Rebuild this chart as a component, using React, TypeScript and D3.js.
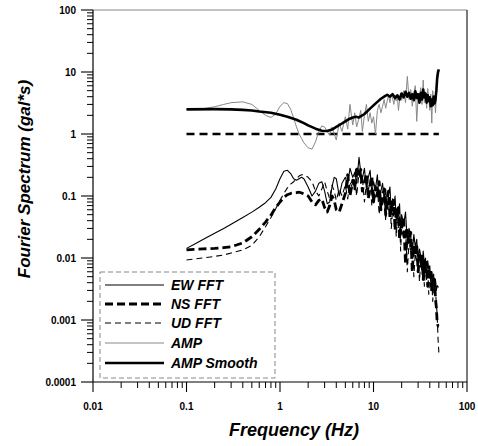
import React from "react";
import * as d3 from "d3";

// ---------- DATA ----------
const FREQ: number[] = [
  0.1, 0.12, 0.15, 0.2, 0.25, 0.3, 0.4, 0.5, 0.6, 0.7, 0.8, 0.9, 1.0, 1.1, 1.2, 1.3, 1.4, 1.5, 1.6, 1.7, 1.8,
  2.0, 2.2, 2.4, 2.6, 2.8, 3.0, 3.2, 3.4, 3.6, 3.8, 4.0, 4.3, 4.6, 5.0,
  5.3, 5.6, 6.0, 6.3, 6.6, 7.0, 7.3, 7.6, 8.0, 8.4, 8.8, 9.2, 9.6, 10,
  10.5, 11, 11.5, 12, 12.5, 13, 13.5, 14, 14.5, 15, 15.5, 16, 16.5, 17, 17.5, 18, 18.5, 19, 19.5, 20,
  21, 22, 23, 24, 25, 26, 27, 28, 29, 30, 31, 32, 33, 34, 35, 36, 37, 38, 39, 40,
  41, 42, 43, 44, 45, 46, 47, 48, 49, 50,
];

const EW_FFT: number[] = [
  0.0143, 0.0165, 0.0198, 0.025, 0.03, 0.035, 0.045, 0.055, 0.066, 0.078, 0.095, 0.13, 0.19, 0.25, 0.26, 0.23, 0.19, 0.18, 0.19, 0.2, 0.19,
  0.14, 0.1, 0.12, 0.16, 0.17, 0.12, 0.075, 0.08, 0.14, 0.2, 0.19, 0.1, 0.16, 0.2,
  0.15, 0.28, 0.2, 0.24, 0.16, 0.42, 0.24, 0.19, 0.28, 0.13, 0.2, 0.26, 0.11, 0.17,
  0.13, 0.22, 0.08, 0.12, 0.16, 0.09, 0.13, 0.06, 0.11, 0.14, 0.05, 0.09, 0.07, 0.1, 0.04, 0.065, 0.055, 0.075, 0.028, 0.05,
  0.035, 0.055, 0.018, 0.03, 0.022, 0.012, 0.024, 0.015, 0.02, 0.009, 0.014, 0.011, 0.0065, 0.013, 0.008, 0.01, 0.0045, 0.009, 0.0065, 0.0075,
  0.0038, 0.006, 0.0048, 0.0055, 0.0028, 0.0045, 0.003, 0.0036, 0.0034, 0.0034,
];

const NS_FFT: number[] = [
  0.0135, 0.0138, 0.014, 0.0143, 0.0147, 0.0152, 0.0175, 0.022, 0.029, 0.038, 0.049, 0.065, 0.08, 0.095, 0.105, 0.11, 0.112, 0.113, 0.115, 0.112, 0.108,
  0.1, 0.08, 0.072, 0.085, 0.09, 0.065, 0.055, 0.07, 0.1, 0.085, 0.06, 0.055, 0.075, 0.11,
  0.22, 0.1, 0.18, 0.13, 0.3, 0.2, 0.27, 0.12, 0.17, 0.23, 0.09, 0.15, 0.21, 0.08,
  0.14, 0.1, 0.17, 0.06, 0.1, 0.13, 0.05, 0.09, 0.12, 0.045, 0.08, 0.06, 0.085, 0.028, 0.06, 0.045, 0.065, 0.02, 0.04, 0.03,
  0.045, 0.008, 0.028, 0.018, 0.026, 0.006, 0.016, 0.011, 0.017, 0.006, 0.011, 0.0085, 0.012, 0.0045, 0.009, 0.006, 0.0085, 0.0035, 0.0068, 0.005,
  0.0062, 0.0028, 0.0048, 0.0035, 0.0045, 0.0022, 0.0016, 0.0009, 0.0008, 0.0008,
];

const UD_FFT: number[] = [
  0.0093, 0.0096, 0.01, 0.0106, 0.0112, 0.012, 0.0135, 0.016, 0.022, 0.032, 0.045, 0.062, 0.085, 0.11, 0.135, 0.155, 0.17, 0.19, 0.21, 0.22, 0.22,
  0.2, 0.17, 0.12, 0.1, 0.13, 0.17, 0.12, 0.09, 0.15, 0.12, 0.085, 0.13, 0.1, 0.15,
  0.09, 0.17, 0.13, 0.2, 0.1, 0.24, 0.16, 0.2, 0.08, 0.16, 0.12, 0.18, 0.07, 0.12,
  0.09, 0.14, 0.05, 0.1, 0.07, 0.11, 0.04, 0.075, 0.06, 0.09, 0.03, 0.06, 0.045, 0.065, 0.022, 0.045, 0.03, 0.048, 0.013, 0.03,
  0.02, 0.03, 0.006, 0.02, 0.012, 0.018, 0.005, 0.012, 0.009, 0.013, 0.0042, 0.009, 0.006, 0.009, 0.0035, 0.007, 0.005, 0.0065, 0.0026, 0.0052,
  0.0035, 0.0045, 0.002, 0.0038, 0.0026, 0.003, 0.0018, 0.0012, 0.0005, 0.0003,
];

const AMP: number[] = [
  2.5, 2.5, 2.55, 2.75, 3.0, 3.2, 3.3, 3.0, 2.4, 2.0, 1.85, 2.1, 2.8, 3.2, 3.1, 2.5, 1.8, 1.3, 1.0, 0.85, 0.72,
  0.6, 0.57, 0.75, 1.1, 1.35, 1.3, 1.1, 0.95, 1.3, 1.0, 0.8, 1.5, 1.1, 1.9,
  1.2, 3.0, 1.4, 2.2, 1.3, 1.8, 2.4, 1.1, 2.0, 3.0, 1.6, 2.2, 1.5, 1.9,
  1.0, 2.4, 3.0, 2.2, 2.8, 3.6, 2.6, 3.4, 4.2, 3.2, 4.4, 3.8, 3.0, 4.2, 3.4, 3.9, 2.4, 3.6, 4.6, 3.5,
  5.0, 3.2, 8.5, 3.6, 5.2, 2.8, 4.6, 6.0, 1.6, 4.2, 3.4, 5.6, 3.0, 7.4, 3.2, 4.8, 2.6, 5.4, 3.8, 2.4,
  4.4, 1.5, 5.0, 3.0, 4.2, 2.2, 4.0, 7.0, 9.5, 10.5,
];

const SMOOTH_FREQ: number[] = [
  0.1, 0.2, 0.3, 0.4, 0.5, 0.6, 0.8, 1.0, 1.2, 1.5, 1.8, 2.0, 2.4, 2.8, 3.2, 3.6, 4.0, 4.5, 5.0, 5.5, 6.0, 6.5, 7.0, 8.0, 9.0,
  10, 11, 12, 13, 14, 15, 16, 17, 18, 19, 20, 21, 22, 23, 24, 25, 26, 27, 28, 29, 30,
  31, 32, 33, 34, 35, 36, 37, 38, 39, 40, 41, 42, 43, 44, 45, 46, 47, 48, 49, 50,
];
const AMP_SMOOTH: number[] = [
  2.5, 2.52, 2.5, 2.45, 2.4, 2.3, 2.2, 2.05, 1.9, 1.7, 1.5, 1.38, 1.22, 1.13, 1.12, 1.18, 1.3, 1.45, 1.6, 1.75, 1.85, 1.9, 1.85, 2.1, 2.5,
  2.9, 3.3, 3.7, 4.0, 4.3, 4.0, 4.4, 3.8, 4.2, 3.6, 4.5, 3.9, 4.8, 4.0, 4.6, 3.7, 4.4, 3.5, 4.9, 3.8, 4.4,
  3.2, 4.6, 3.6, 5.2, 3.9, 4.5, 3.2, 4.2, 3.4, 3.9, 2.8, 3.6, 2.9, 4.0, 3.1, 3.6, 5.0, 8.0, 10.0, 11.0,
];

const REF_FREQ: number[] = [0.1, 50];
const REF_VAL: number[] = [1, 1];

const X_TICKS: number[] = [0.01, 0.1, 1, 10, 100];
const X_TICK_LABELS: string[] = ["0.01", "0.1", "1", "10", "100"];
const Y_TICKS: number[] = [0.0001, 0.001, 0.01, 0.1, 1, 10, 100];
const Y_TICK_LABELS: string[] = ["0.0001", "0.001", "0.01", "0.1", "1", "10", "100"];

const LEGEND_LABELS: string[] = ["EW FFT", "NS FFT", "UD FFT", "AMP", "AMP Smooth"];
const X_TITLE = "Frequency (Hz)";
const Y_TITLE = "Fourier Spectrum (gal*s)";

// ---------- STYLES ----------
type Sty = { stroke: string; width: number; dash?: string };
const STYLES: Sty[] = [
  { stroke: "#000", width: 1.1 },
  { stroke: "#000", width: 2.8, dash: "8,4" },
  { stroke: "#000", width: 1.1, dash: "6,4" },
  { stroke: "#888", width: 1 },
  { stroke: "#000", width: 2.6 },
];

const FONT = "'Liberation Sans', Arial, Helvetica, sans-serif";

export default function App() {
  const W = 478, H = 446;
  const x = d3.scaleLog().domain([0.01, 100]).range([93, 467]);
  const y = d3.scaleLog().domain([0.0001, 100]).range([382, 10]);

  const line = d3
    .line<[number, number]>()
    .x((d) => x(d[0]))
    .y((d) => y(d[1]));

  const zip = (f: number[], v: number[]) => f.map((ff, i) => [ff, v[i]] as [number, number]);

  const series = [
    { data: zip(FREQ, EW_FFT), s: STYLES[0] },
    { data: zip(FREQ, UD_FFT), s: STYLES[2] },
    { data: zip(FREQ, NS_FFT), s: STYLES[1] },
    { data: zip(REF_FREQ, REF_VAL), s: { stroke: "#000", width: 2.4, dash: "8,5" } },
    { data: zip(FREQ, AMP), s: STYLES[3] },
    { data: zip(SMOOTH_FREQ, AMP_SMOOTH), s: STYLES[4] },
  ];

  const minorX: number[] = [];
  for (let e = -2; e < 2; e++) for (let m = 2; m <= 9; m++) minorX.push(m * Math.pow(10, e));
  const minorY: number[] = [];
  for (let e = -4; e < 2; e++) for (let m = 2; m <= 9; m++) minorY.push(m * Math.pow(10, e));

  const [x0, x1] = x.range();
  const [y0, y1] = y.range();

  const legX = 100, legY = 272, legW = 175, legH = 106;
  const rowY = [285, 304, 323, 343, 363];

  return (
    <svg
      width={W}
      height={H}
      style={{ position: "absolute", left: 0, top: 0, background: "#fff" }}
      fontFamily={FONT}
    >
      <rect x={0} y={0} width={W} height={H} fill="#fff" />
      {series.map((sr, i) => (
        <path
          key={i}
          d={line(sr.data) || ""}
          fill="none"
          stroke={sr.s.stroke}
          strokeWidth={sr.s.width}
          strokeDasharray={sr.s.dash}
          strokeLinejoin="round"
        />
      ))}

      {/* frame */}
      <line x1={x0} y1={y1} x2={x1} y2={y1} stroke="#888" strokeWidth={1.2} />
      <line x1={x1} y1={y1} x2={x1} y2={y0} stroke="#222" strokeWidth={1.2} />
      <line x1={x0} y1={y0} x2={x1} y2={y0} stroke="#000" strokeWidth={1.2} />
      <line x1={x0} y1={y1} x2={x0} y2={y0} stroke="#000" strokeWidth={1.2} />

      {/* x ticks */}
      {X_TICKS.map((t, i) => (
        <g key={"xt" + i}>
          <line x1={x(t)} x2={x(t)} y1={y0} y2={y0 + 10} stroke="#000" strokeWidth={1.1} />
          <text x={x(t)} y={y0 + 28} textAnchor="middle" fontSize={10} fontWeight="bold">
            {X_TICK_LABELS[i]}
          </text>
        </g>
      ))}
      {minorX.map((t, i) => (
        <line key={"xm" + i} x1={x(t)} x2={x(t)} y1={y0} y2={y0 + 6} stroke="#000" strokeWidth={1} />
      ))}

      {/* y ticks */}
      {Y_TICKS.map((t, i) => (
        <g key={"yt" + i}>
          <line x1={x0 - 12} x2={x0} y1={y(t)} y2={y(t)} stroke="#000" strokeWidth={1.1} />
          <text x={x0 - 17} y={y(t) + 3.5} textAnchor="end" fontSize={10} fontWeight="bold">
            {Y_TICK_LABELS[i]}
          </text>
        </g>
      ))}
      {minorY.map((t, i) => (
        <line key={"ym" + i} x1={x0 - 6} x2={x0} y1={y(t)} y2={y(t)} stroke="#000" strokeWidth={1} />
      ))}

      {/* axis titles */}
      <text x={294} y={436} textAnchor="middle" fontSize={18} fontWeight="bold" fontStyle="italic">
        {X_TITLE}
      </text>
      <text
        transform={`translate(30,179) rotate(-90)`}
        textAnchor="middle"
        fontSize={17}
        fontWeight="bold"
        fontStyle="italic"
      >
        {Y_TITLE}
      </text>

      {/* legend */}
      <rect x={legX} y={legY} width={legW} height={legH} fill="#fff" stroke="#888" strokeWidth={1} strokeDasharray="5,3" />
      {LEGEND_LABELS.map((lab, i) => (
        <g key={"lg" + i}>
          <line
            x1={105}
            x2={164}
            y1={rowY[i]}
            y2={rowY[i]}
            stroke={STYLES[i].stroke}
            strokeWidth={STYLES[i].width}
            strokeDasharray={STYLES[i].dash}
          />
          <text x={171} y={rowY[i] + 5} fontSize={14} fontWeight="bold" fontStyle="italic">
            {lab}
          </text>
        </g>
      ))}
    </svg>
  );
}
